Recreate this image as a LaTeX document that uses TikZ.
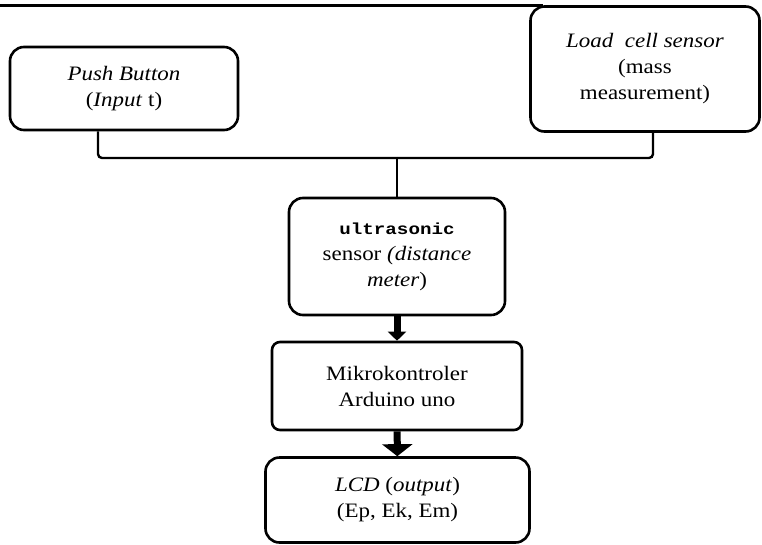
\documentclass[tikz,border=0pt]{standalone}
\usepackage{fontspec}
\setmainfont{Liberation Serif}[FakeStretch=1.12]
\setmonofont{Liberation Mono}[FakeStretch=1.2]
\usetikzlibrary{arrows.meta}

\tikzset{
  block/.style={draw,line width=2.6pt,rounded corners=14pt,align=center,
                font=\fontsize{20.5}{26}\selectfont,inner sep=0pt},
  link/.style={line width=2.4pt},
  flow/.style={line width=7pt}
}

\begin{document}
\begin{tikzpicture}[x=1pt,y=-1pt]
  \useasboundingbox (0,0) rectangle (762,544);
  \draw[line width=3pt] (0,5) -- (543,5);

  \node[block,minimum width=228pt,minimum height=83pt] (push) at (124,88.5)
       {\textit{Push Button}\\(\textit{Input} t)};
  \node[block,minimum width=229pt,minimum height=125pt] (load) at (645,69)
       {\textit{Load\ \ cell sensor}\\(mass\\measurement)};
  \node[block,minimum width=216pt,minimum height=117pt] (ultra) at (397,256.5)
       {{\fontsize{16}{26}\selectfont\ttfamily\bfseries ultrasonic}\\sensor \textit{(distance}\\\textit{meter})};
  \node[block,rounded corners=8pt,minimum width=250pt,minimum height=88pt] (mikro) at (397,386)
       {Mikrokontroler\\Arduino uno};
  \node[block,minimum width=264pt,minimum height=85pt] (lcd) at (397.5,500)
       {\textit{LCD} (\textit{output})\\(Ep, Ek, Em)};

  \coordinate (join) at (397,158);
  \draw[link,rounded corners=4pt] ([xshift=-26pt]push.south) |- (join);
  \draw[link,rounded corners=4pt] ([xshift=8pt]load.south) |- (join);
  \draw[link] (join) -- (ultra.north);
  \draw[flow,-{Triangle[length=9pt,width=18pt]}] (ultra) -- (mikro);
  \draw[flow,-{Triangle[length=12pt,width=30pt]}] (mikro) -- (lcd);
\end{tikzpicture}
\end{document}
